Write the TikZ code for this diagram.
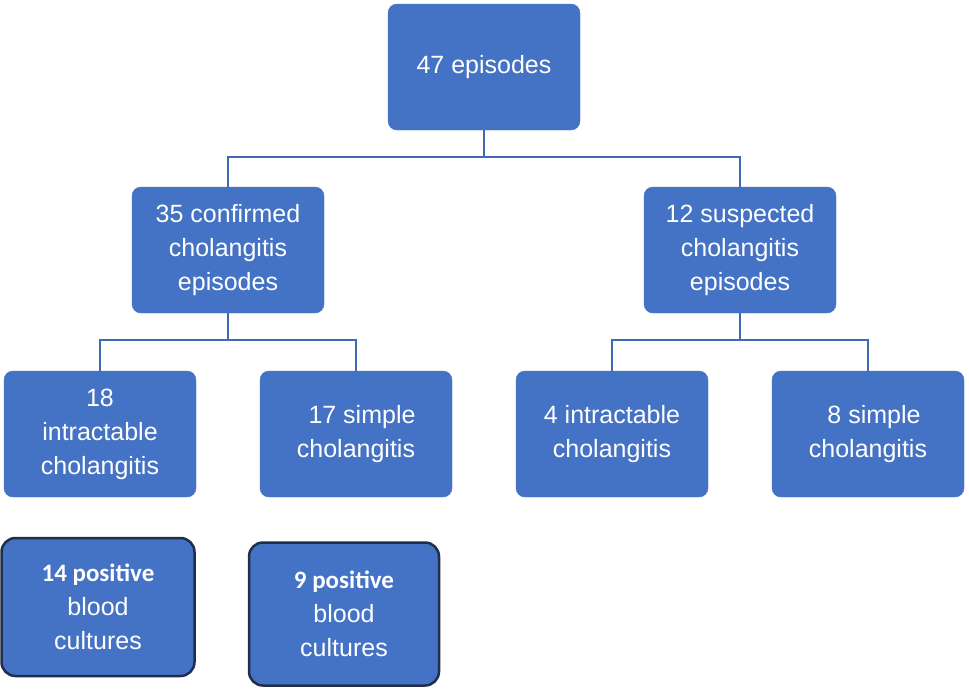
\documentclass[tikz,border=0pt]{standalone}
\usepackage{fontspec}
\setmainfont{Liberation Sans}
\newfontfamily\carl{Carlito}
\definecolor{boxblue}{HTML}{4472C4}
\definecolor{lineblue}{HTML}{4069B4}
\definecolor{darkb}{HTML}{1F2E4A}
\begin{document}
\begin{tikzpicture}[x=1pt,y=-1pt,
  box/.style={draw=boxblue,fill=boxblue,rounded corners=9pt,text=white,align=center,
    minimum width=192pt,minimum height=126pt,inner sep=0pt,
    font=\fontsize{25}{34}\selectfont},
  dbox/.style={box,draw=darkb,line width=2.5pt,rounded corners=14pt},
  conn/.style={draw=lineblue,line width=2.5pt}]
\useasboundingbox (0,0) rectangle (969,689);
\node[box] (top) at (484,67) {47 episodes};
\node[box] (conf) at (228,250) {35 confirmed\\cholangitis\\episodes};
\node[box] (susp) at (740,250) {12 suspected\\cholangitis\\episodes};
\node[box] (a) at (100,434) {18\\intractable\\cholangitis};
\node[box] (b) at (356,434) {\hspace*{12pt}17 simple\\cholangitis};
\node[box] (c) at (612,434) {4 intractable\\cholangitis};
\node[box] (d) at (868,434) {\hspace*{12pt}8 simple\\cholangitis};
\node[dbox,minimum width=193pt,minimum height=138pt] (e) at (98,607)
  {{\carl\bfseries 14 positive}\\blood\\cultures};
\node[dbox,minimum width=190pt,minimum height=143pt] (f) at (344,614)
  {{\carl\bfseries 9 positive}\\blood\\cultures};
\coordinate (j1) at (484,157);
\coordinate (j2) at (228,340);
\coordinate (j3) at (740,340);
\draw[conn] (top.south) -- (j1);
\draw[conn] (conf.north) |- (j1) -| (susp.north);
\draw[conn] (conf.south) -- (j2);
\draw[conn] (a.north) |- (j2) -| (b.north);
\draw[conn] (susp.south) -- (j3);
\draw[conn] (c.north) |- (j3) -| (d.north);
\end{tikzpicture}
\end{document}
